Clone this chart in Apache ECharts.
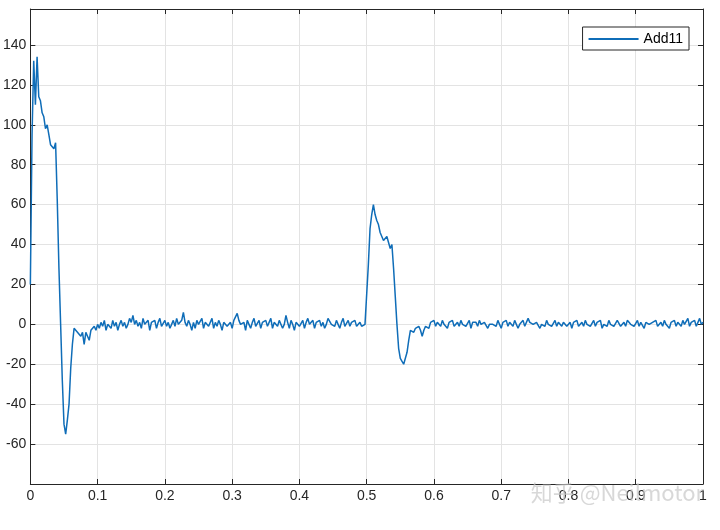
<!DOCTYPE html>
<html><head><meta charset="utf-8">
<script src="https://cdn.jsdelivr.net/npm/echarts@6/dist/echarts.min.js"></script>
<style>html,body{margin:0;padding:0;background:#fff}#c{width:720px;height:530px}</style>
</head><body><div id="c"></div>
<script>
const seriesName = 'Add11';
const step = 0.0025;
const pulse1 = [20,95,132,110,134,114,112,106,104,98,100,95,90,91,88,91,62,28,0,-28,-50,-55,-48,-40,-22,-10,-2,-1,-4,-3,-6,-4,-10,-4,-5,-8,-3,-4,-1,-3];
const noise1 = [
0,-2,1,-1,2,-3,0,1,-2,2,-1,1,-3,0,2,-1,1,-2,0,3,
1,4.5,0,2,-1,1,-2,3,0,-1,2,-3,1,0,2,-2,1,3,-1,0,
2,-1,1,-2,0,2,-1,3,0,1,2,6,1,-1,2,0,-3,1,-2,2,
0,-1,3,-2,1,2,-1,0,3,-2,1,-1,2,0,-3,1,2,-1,0,1,
-2,2,1,5.5,2,0,-1,1,-3,2,0,-2,1,3,-1,0,2,-2,1,0,
2,-1,0,3,-2,1,0,-1,2,1,-2,0,4.5,1,-2,2,0,-3,1,2,
-1,0,2,-2,1,3,0,-1,2,-2,1,0,2,-1,1,-2,0,3,4,0,
1,-1,2,0,-2,1,3,-1,0,2,-1,1,0,2,-1,0,1,-1,0,0];
const pulse2 = [0,30,48,55,60,55,52,50,46,47,42,43,44,41,38,40,28,14,0,-12,-17,-18,-20,-17,-14,-8,-3,-2,-4,-2,-3,-1,-3,-6,-3,-1];
const noise2 = [
0,-2,1,0,2,-1,1,0,-1,2,0,1,-2,1,0,2,-1,0,1,-1,
2,0,1,-1,0,2,-2,1,0,1,-1,2,0,-1,1,2,-2,0,1,0,
1,-1,2,0,-2,1,0,2,-1,1,0,-1,2,1,-2,0,1,2,-1,0,
3,1,2,0,-1,1,2,-2,0,1,-1,2,0,1,-1,0,2,-1,1,0,
-1,1,2,-1,0,1,-2,1,0,2,-1,0,1,-1,2,0,1,-1,0,2,
-1,1,0,2,-2,0,1,-1,2,0,1,-1,0,2,1,-1,0,1,-1,2,
2,0,1,-1,0,2,-1,1,0,-2,1,2,0,-1,1,0,2,-1,0,1,
-1,2,0,1,-2,1,0,2,-1,1,0,-1,2,0,1,3,-1,1,0,2,
-1,1,3,0,1];
const yTickLabels = [-60,-40,-20,0,20,40,60,80,100,120,140];
const xTickLabels = [0,0.1,0.2,0.3,0.4,0.5,0.6,0.7,0.8,0.9,1];

const values = pulse1.concat(noise1, pulse2, noise2);
const data = values.map((v,i)=>[+(i*step).toFixed(4), v]);

const font = '"Liberation Sans", Arial, sans-serif';
const axCol = '#262626';
const chart = echarts.init(document.getElementById('c'), null, {renderer:'canvas'});
const xBase = {
  type:'value', min:0, max:1, interval:0.1,
  axisLine:{show:true, onZero:false, lineStyle:{color:axCol, width:1}},
  axisTick:{show:true, inside:true, length:5, lineStyle:{color:axCol}},
  splitLine:{show:false}
};
const yBase = {
  type:'value', min:-80, max:158, interval:20,
  axisLine:{show:true, onZero:false, lineStyle:{color:axCol, width:1}},
  axisTick:{show:true, inside:true, length:5, lineStyle:{color:axCol}},
  splitLine:{show:false}
};
chart.setOption({
  animation:false,
  backgroundColor:'#fff',
  grid:{left:27, right:17, top:9, bottom:46, containLabel:false},
  legend:{
    data:[seriesName], right:31, top:27, orient:'vertical',
    backgroundColor:'#fff', borderColor:'#262626', borderWidth:1,
    padding:[5,6,4,6], itemWidth:50, itemHeight:2, icon:'rect', itemGap:4,
    textStyle:{fontFamily:font, fontSize:14, color:'#000'}
  },
  xAxis:[
    Object.assign({}, xBase, {
      position:'bottom',
      axisLabel:{color:axCol, fontFamily:font, fontSize:14, margin:5,
        formatter:v=>{const r=Math.round(v*10)/10; return xTickLabels.includes(r)?String(r):'';}},
      splitLine:{show:true, lineStyle:{color:'#e3e3e3', width:1}}
    }),
    Object.assign({}, xBase, {position:'top', axisLabel:{show:false}})
  ],
  yAxis:[
    Object.assign({}, yBase, {
      position:'left',
      axisLabel:{color:axCol, fontFamily:font, fontSize:14, margin:4,
        formatter:v=>yTickLabels.includes(v)?String(v):''},
      splitLine:{show:true, lineStyle:{color:'#e3e3e3', width:1}}
    }),
    Object.assign({}, yBase, {position:'right', axisLabel:{show:false}})
  ],
  series:[{
    name:seriesName, type:'line', data:data, showSymbol:false, symbol:'none',
    xAxisIndex:0, yAxisIndex:0,
    lineStyle:{color:'#0F6DB8', width:1.5}, itemStyle:{color:'#0F6DB8'}
  }],
  graphic:[{
    type:'text', right:16, top:482, silent:true, z:100,
    style:{text:'知乎 @Neilmotor', fontFamily:'"Noto Sans CJK SC", sans-serif', fontSize:22,
      fill:'rgba(200,200,200,0.7)'}
  }]
});
</script></body></html>
